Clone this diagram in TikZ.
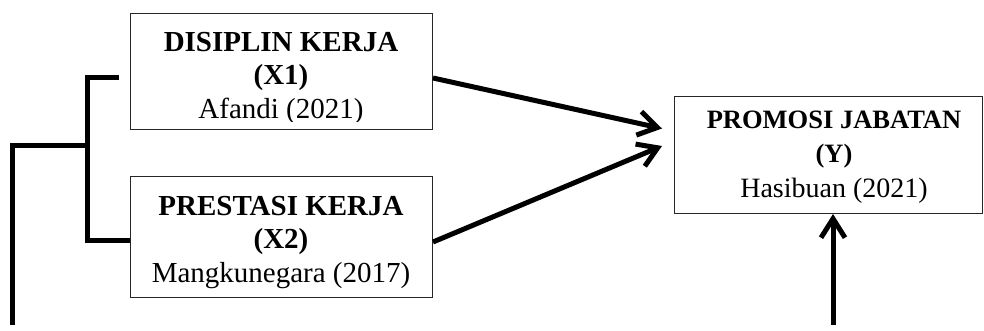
\documentclass[tikz,border=0pt]{standalone}
\usepackage{fontspec}
\setmainfont{Liberation Serif}
\usetikzlibrary{arrows.meta}
\begin{document}
\begin{tikzpicture}[x=1pt,y=-1pt,
  box/.style={draw=black!85,line width=1pt,inner sep=0pt,minimum width=#1,minimum height=116pt},
  conn/.style={line width=5pt,line join=miter},
  arr/.style={conn,-{Straight Barb[length=19pt,width=24pt,line width=5pt]}},
  xt/.style={anchor=base,inner sep=0pt,font=\fontsize{29}{33}\selectfont},
  xb/.style={xt,font=\fontsize{29}{33}\selectfont\bfseries},
  yt/.style={anchor=base,inner sep=0pt,font=\fontsize{28}{33}\selectfont},
  yb/.style={anchor=base,inner sep=0pt,font=\fontsize{26.5}{33}\selectfont\bfseries}]
\useasboundingbox (0,0) rectangle (984,331);
\fill[white] (0,0) rectangle (984,331);
% boxes
\node[box=302pt] (x1) at (281,72) {};
\node[box=302pt,minimum height=120pt] (x2) at (281,237) {};
\node[box=308pt] (y) at (828,155) {};
% texts X1 (clipped like the original)
\begin{scope}
\clip (131,15) rectangle (431,121.5);
\node[xb] (x1a) at (281,52) {DISIPLIN KERJA};
\node[xb] (x1b) at (281,85) {(X1)};
\node[xt] (x1c) at (281,119) {Afandi (2021)};
\end{scope}
% texts X2
\node[xb] (x2a) at (281,215) {PRESTASI KERJA};
\node[xb] (x2b) at (281,248) {(X2)};
\node[xt] (x2c) at (281,282) {Mangkunegara (2017)};
% texts Y
\node[yb] (ya) at (834,129) {PROMOSI JABATAN};
\node[yb] (yb) at (834,163) {(Y)};
\node[yt] (yc) at (834,197) {Hasibuan (2021)};
% bracket
\coordinate (bt) at (119,77.5);
\coordinate (bj) at (87.5,146);
\coordinate (bl) at (12,325);
\draw[conn] (bt) -- (87.5,77.5) -- (87.5,240) -- (x2.west |- 0,240);
\draw[conn] (bj) -- (12,146) -- (bl);
% arrows
\coordinate (a1s) at (433,78);
\coordinate (a1e) at (662,128.5);
\coordinate (a2s) at (433,242);
\coordinate (a2e) at (662,146);
\coordinate (a3s) at (833,325);
\coordinate (a3e) at (833,214);
\draw[arr] (a1s) -- (a1e);
\draw[arr] (a2s) -- (a2e);
\draw[arr] (a3s) -- (a3e);
\end{tikzpicture}
\end{document}
